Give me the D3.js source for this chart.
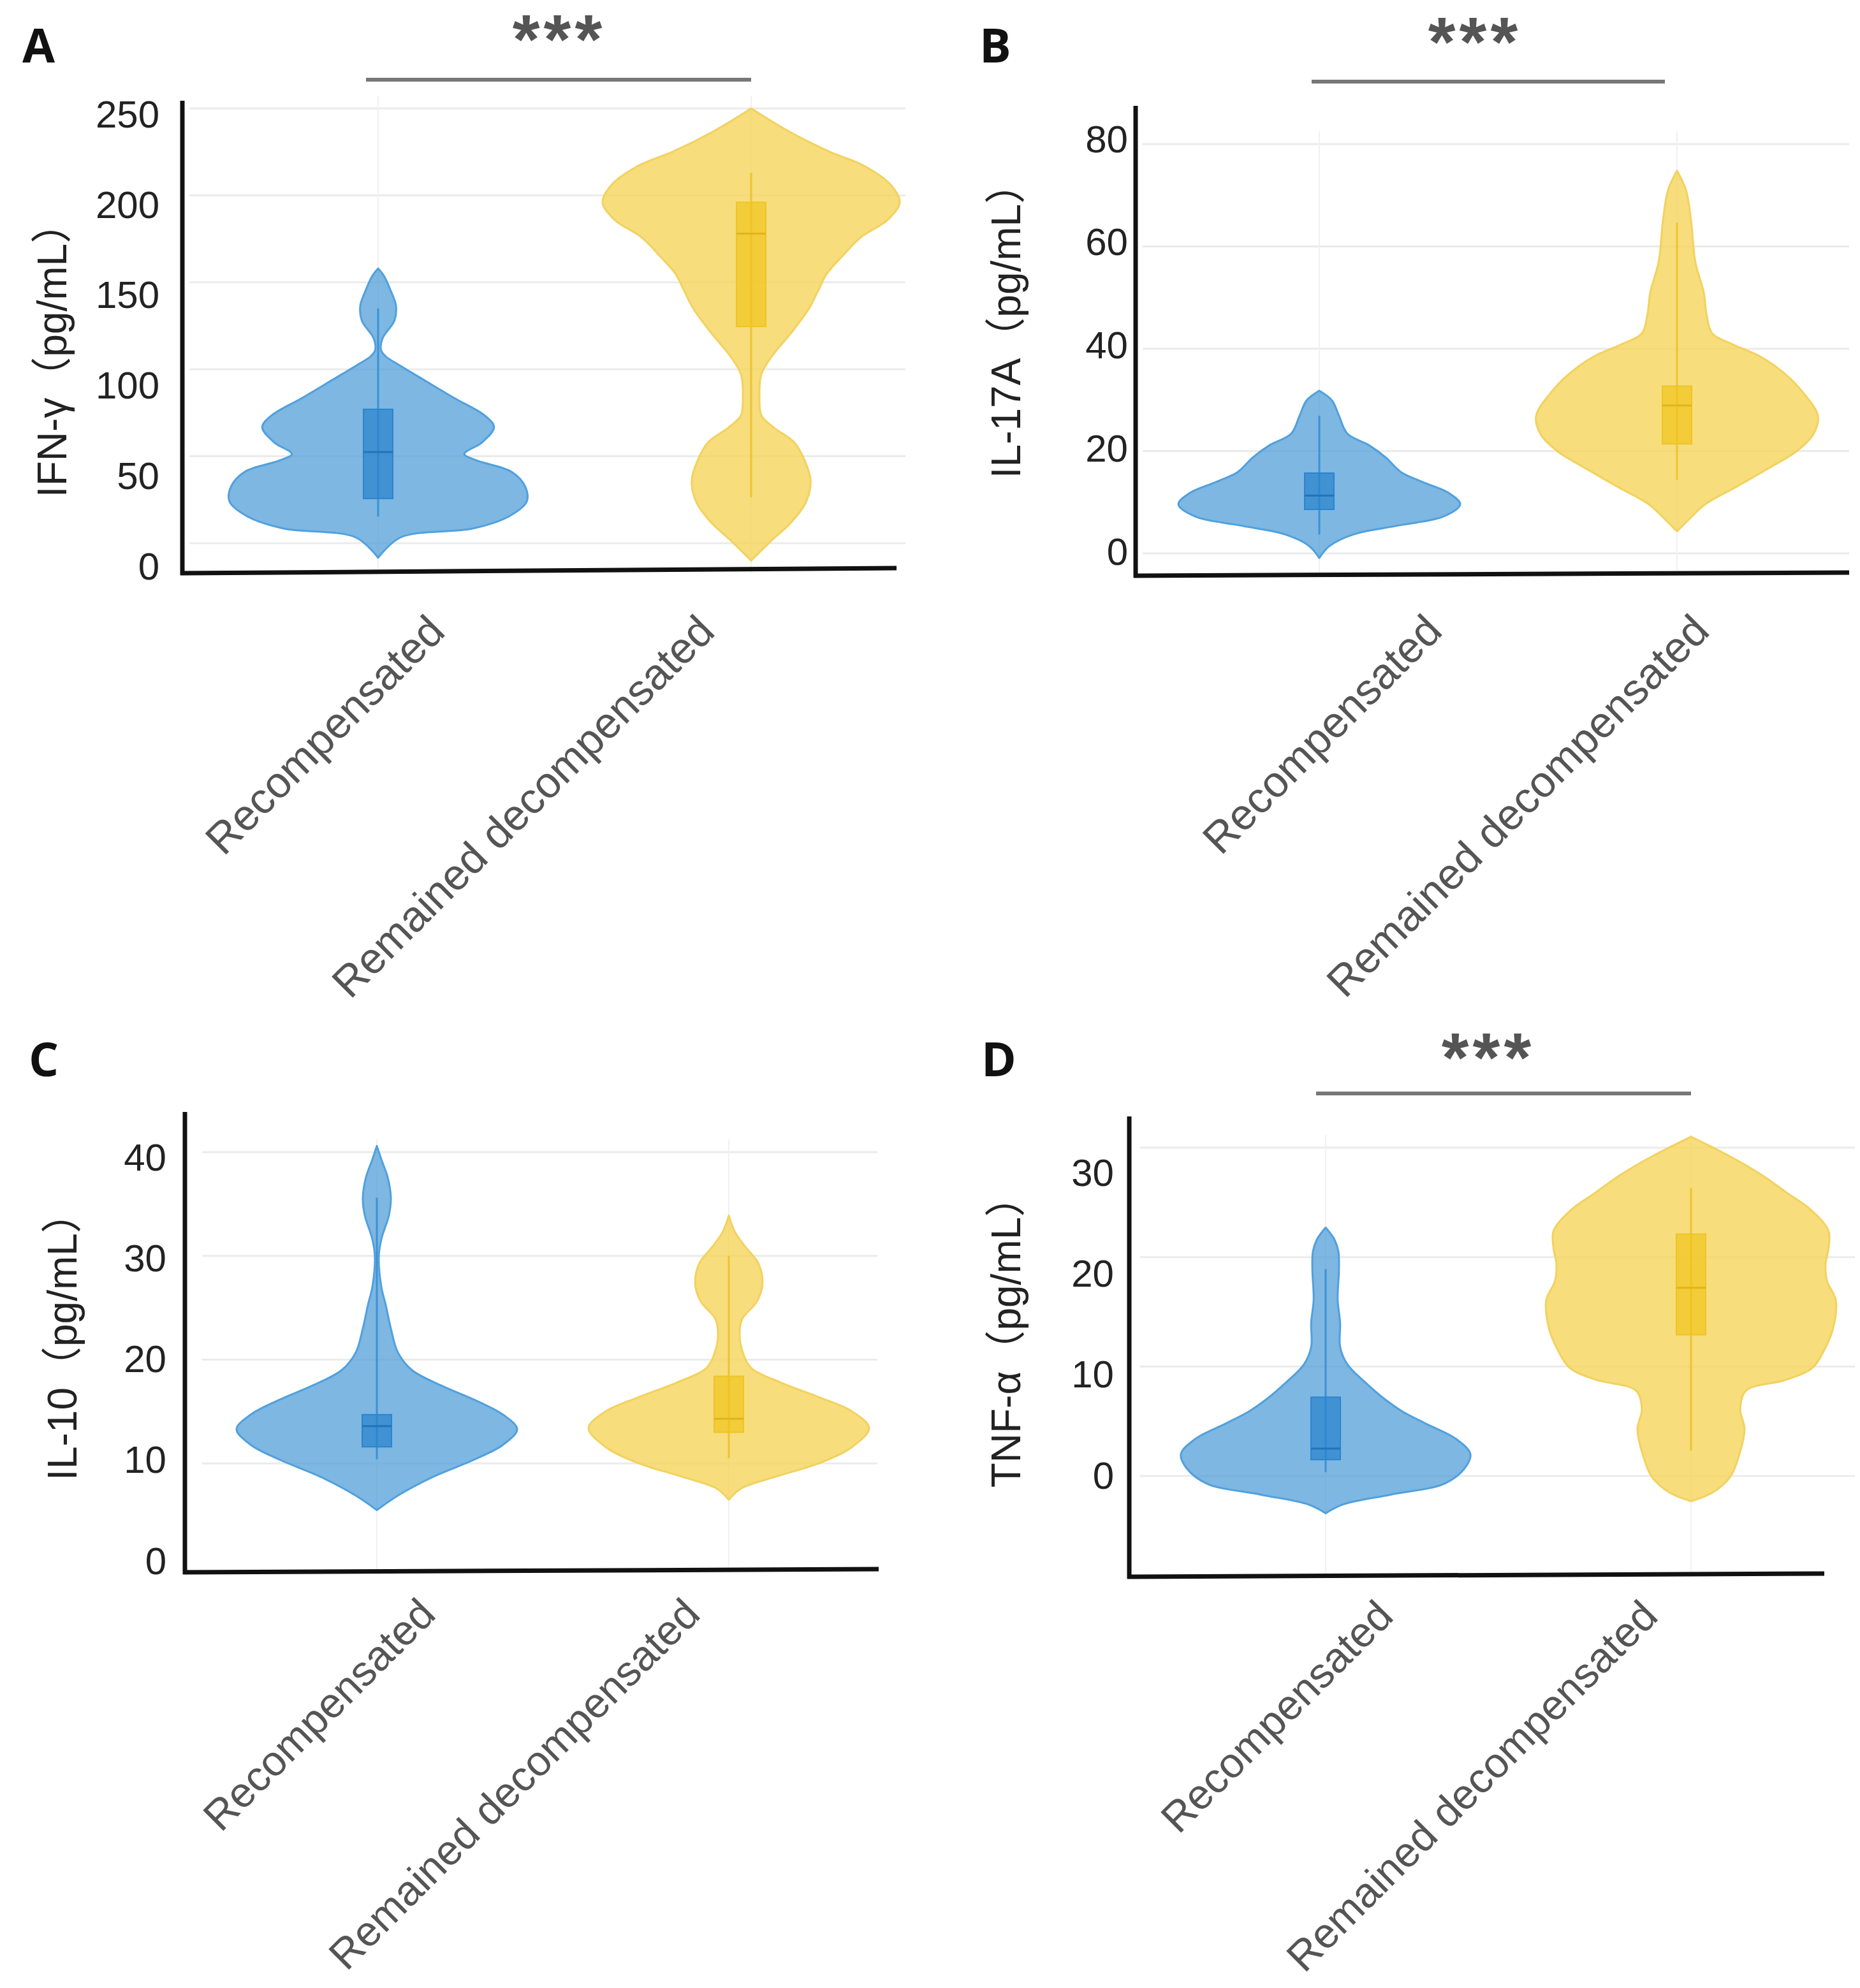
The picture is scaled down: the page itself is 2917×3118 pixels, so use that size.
<!DOCTYPE html>
<html>
<head>
<meta charset="utf-8">
<script src="https://cdn.jsdelivr.net/npm/d3@7"></script>
<style>
  body { margin: 0; background: #fff; }
  svg { display: block; }
</style>
</head>
<body>
<svg id="chart" width="2917" height="3118"></svg>
<script>
// ---------------- DATA ----------------
const categories = ["Recompensated", "Remained decompensated"];
const panelLetters = ["A", "B", "C", "D"];
const yTitles = ["IFN-γ（pg/mL）", "IL-17A（pg/mL）", "IL-10（pg/mL）", "TNF-α（pg/mL）"];
const significance = ["***", "***", "", "***"];

const yTicksA = [0, 50, 100, 150, 200, 250];
const yTicksB = [0, 20, 40, 60, 80];
const yTicksC = [0, 10, 20, 30, 40];
const yTicksD = [0, 10, 20, 30];
const gridA = [0, 50, 100, 150, 200, 250];
const gridB = [0, 20, 40, 60, 80];
const gridC = [10, 20, 30, 40];
const gridD = [0, 10, 20, 30];

// violin density profiles: [value, relative density (max = 1)]
const ifnRecompDensity = [[-8.4,0],[3.3,0.15],[8.5,0.64],[15.4,0.88],[23.9,1],[32.6,0.99],[41,0.9],[47.7,0.66],[51.3,0.58],[58,0.7],[66.7,0.78],[73.3,0.72],[83.6,0.51],[93.8,0.31],[102,0.15],[107.5,0.05],[111,0.02],[117.8,0.03],[128,0.11],[136.6,0.12],[145,0.086],[153.6,0.04],[158,0]];
const ifnDecompDensity = [[-10,0],[1.8,0.14],[12,0.27],[23.8,0.37],[36,0.4],[47.7,0.36],[58,0.29],[66.7,0.15],[73.3,0.07],[83.6,0.056],[97,0.068],[107.5,0.14],[121,0.27],[135,0.39],[145,0.45],[155,0.51],[165.6,0.62],[176,0.74],[186,0.92],[196,1],[206,0.94],[217,0.76],[225,0.53],[237,0.25],[250,0]];
const il17RecompDensity = [[-0.9,0],[1.4,0.07],[3.7,0.24],[5.5,0.57],[7.2,0.88],[9.6,1],[11.8,0.92],[14,0.73],[15.9,0.58],[18.8,0.47],[21.2,0.35],[23.4,0.2],[26.9,0.14],[29.9,0.09],[31.8,0]];
const il17DecompDensity = [[4.3,0],[7.2,0.105],[9.6,0.2],[13,0.42],[16.5,0.64],[20,0.85],[23.4,0.97],[26.9,1],[31.6,0.89],[35,0.77],[38.5,0.59],[40.8,0.4],[43,0.25],[46.7,0.21],[51,0.19],[57,0.13],[65,0.1],[71,0.064],[74.8,0]];
const il10RecompDensity = [[5.5,0],[6.9,0.15],[8.7,0.4],[10.4,0.7],[11.8,0.9],[13.3,1],[14.7,0.9],[16.1,0.7],[17.5,0.46],[19,0.25],[20.7,0.15],[23,0.1],[25.3,0.063],[27,0.032],[29.9,0.014],[31.6,0.032],[33.9,0.086],[35.6,0.1],[37.6,0.077],[39.3,0.032],[40.6,0]];
const il10DecompDensity = [[6.5,0],[7.6,0.09],[8.7,0.33],[10.1,0.66],[11.6,0.88],[13.4,1],[15,0.88],[16.4,0.64],[17.8,0.37],[19.2,0.16],[20.7,0.1],[22.4,0.077],[23.9,0.095],[25.6,0.2],[27.3,0.24],[29.3,0.21],[31,0.11],[32.4,0.04],[33.9,0]];
const tnfRecompDensity = [[-3.4,0],[-2.6,0.12],[-1.7,0.45],[-0.7,0.82],[0.7,0.96],[2.0,1],[3.4,0.9],[4.8,0.69],[5.9,0.53],[6.9,0.42],[8.6,0.27],[10.2,0.15],[11.8,0.1],[14,0.1],[16.1,0.083],[18.9,0.092],[20.5,0.088],[21.6,0.061],[22.7,0]];
const tnfDecompDensity = [[-2.3,0],[-1.5,0.15],[-0.1,0.27],[1.8,0.33],[4.3,0.37],[6.1,0.34],[7.8,0.38],[8.8,0.66],[9.9,0.84],[11.5,0.92],[13.4,0.98],[16.1,1],[17.8,0.94],[19.4,0.93],[20.8,0.95],[22.4,0.95],[24.3,0.83],[25.9,0.66],[27.5,0.49],[29.2,0.27],[31,0]];

// box statistics: [lower whisker, Q1, median, Q3, upper whisker]
const ifnRecompBox = [15.4, 25.7, 52.4, 77, 135];
const ifnDecompBox = [26.4, 124.6, 178, 196, 213];
const il17RecompBox = [3.7, 8.6, 11.3, 15.7, 26.9];
const il17DecompBox = [14.4, 21.4, 28.9, 32.7, 64.6];
const il10RecompBox = [10.4, 11.6, 13.6, 14.7, 35.6];
const il10DecompBox = [10.5, 13, 14.3, 18.4, 30];
const tnfRecompBox = [0.35, 1.5, 2.5, 7.2, 18.9];
const tnfDecompBox = [2.3, 12.9, 17.2, 22.1, 26.3];

// ---------------- LAYOUT (pixels) ----------------
const layouts = [
  { yMax: 250, ticks: yTicksA, grid: gridA, dens: [ifnRecompDensity, ifnDecompDensity], box: [ifnRecompBox, ifnDecompBox],
    yRange: [852, 170], labelRange: [889, 180], labelX: 250, gridX: [297, 1420], catX: [593, 1178],
    catLabelX: [684, 1107], catLabelY: 977, catFont: 68, yAxisX: 286, yAxisTop: 158, xAxis: [[286, 899], [1406, 891]],
    maxHalf: 233, letter: [35, 98], title: [82, 549], sig: { x0: 574, x1: 1178, y: 125, tx: 877, ty: 99 } },
  { yMax: 80, ticks: yTicksB, grid: gridB, dens: [il17RecompDensity, il17DecompDensity], box: [il17RecompBox, il17DecompBox],
    yRange: [868, 226], labelRange: [866, 219], labelX: 1769, gridX: [1792, 2900], catX: [2069, 2630],
    catLabelX: [2248, 2667], catLabelY: 976, catFont: 68, yAxisX: 1781, yAxisTop: 166, xAxis: [[1781, 903], [2900, 898]],
    maxHalf: 221, letter: [1536, 98], title: [1578, 503], sig: { x0: 2057, x1: 2611, y: 128, tx: 2313, ty: 103 } },
  { yMax: 40, ticks: yTicksC, grid: gridC, dens: [il10RecompDensity, il10DecompDensity], box: [il10RecompBox, il10DecompBox],
    yRange: [2458, 1807], labelRange: [2449, 1816], labelX: 261, gridX: [317, 1376], catX: [591, 1143],
    catLabelX: [670, 1085], catLabelY: 2519, catFont: 66, yAxisX: 290, yAxisTop: 1744, xAxis: [[290, 2466], [1378, 2461]],
    maxHalf: 220, letter: [45, 1688], title: [98, 2096], sig: null },
  { yMax: 30, ticks: yTicksD, grid: gridD, dens: [tnfRecompDensity, tnfDecompDensity], box: [tnfRecompBox, tnfDecompBox],
    yRange: [2315, 1800], labelRange: [2315, 1840], labelX: 1747, gridX: [1788, 2909], catX: [2079, 2652],
    catLabelX: [2172, 2587], catLabelY: 2522, catFont: 66, yAxisX: 1771, yAxisTop: 1751, xAxis: [[1771, 2473], [2861, 2468]],
    maxHalf: 227, letter: [1539, 1688], title: [1578, 2089], sig: { x0: 2064, x1: 2652, y: 1715, tx: 2334, ty: 1696 } }
];

const styles = [
  { fill: "rgb(75,155,215)", fillOpacity: 0.72, stroke: "rgb(80,160,222)", boxFill: "rgb(40,130,205)", boxStroke: "rgb(45,132,205)", median: "rgb(35,115,185)", whisker: "rgb(60,145,212)" },
  { fill: "rgb(245,212,90)", fillOpacity: 0.8, stroke: "rgb(242,210,95)", boxFill: "rgb(240,196,30)", boxStroke: "rgb(238,196,40)", median: "rgb(226,180,25)", whisker: "rgb(236,196,50)" }
];
const boxHalf = 23;
const sansFont = "'Liberation Sans', Arial, 'Noto Sans CJK SC', sans-serif";

// ---------------- DRAW ----------------
const svg = d3.select("#chart");
svg.append("rect").attr("width", 2917).attr("height", 3118).attr("fill", "#fff");

layouts.forEach((p, i) => {
  const g = svg.append("g");
  const y = d3.scaleLinear().domain([0, p.yMax]).range(p.yRange);
  const yLab = d3.scaleLinear().domain([0, p.yMax]).range(p.labelRange);
  const x = d3.scalePoint().domain(categories).range(p.catX);
  const xLab = d3.scalePoint().domain(categories).range(p.catLabelX);
  const w = d3.scaleLinear().domain([0, 1]).range([0, p.maxHalf]);
  const plotTop = y(p.yMax) - 20;
  const plotBottom = p.xAxis[0][1];

  // horizontal gridlines
  g.append("g").selectAll("line").data(p.grid).join("line")
    .attr("x1", p.gridX[0]).attr("x2", p.gridX[1])
    .attr("y1", d => y(d)).attr("y2", d => y(d))
    .attr("stroke", "#ebebeb").attr("stroke-width", 3);
  // vertical category gridlines
  g.append("g").selectAll("line").data(categories).join("line")
    .attr("x1", d => x(d)).attr("x2", d => x(d))
    .attr("y1", plotTop).attr("y2", plotBottom)
    .attr("stroke", "#f1f1f1").attr("stroke-width", 2);

  // violins
  categories.forEach((c, k) => {
    const cx = x(c);
    const st = styles[k];
    const area = d3.area()
      .curve(d3.curveCatmullRom.alpha(0.5))
      .y(d => y(d[0]))
      .x0(d => cx - w(d[1]))
      .x1(d => cx + w(d[1]));
    g.append("path").datum(p.dens[k])
      .attr("d", area)
      .attr("fill", st.fill).attr("fill-opacity", st.fillOpacity)
      .attr("stroke", st.stroke).attr("stroke-width", 3).attr("stroke-linejoin", "round");

    const b = p.box[k];
    // whisker
    g.append("line")
      .attr("x1", cx).attr("x2", cx)
      .attr("y1", y(b[0])).attr("y2", y(b[4]))
      .attr("stroke", st.whisker).attr("stroke-width", 3);
    // box
    g.append("rect")
      .attr("x", cx - boxHalf).attr("width", boxHalf * 2)
      .attr("y", y(b[3])).attr("height", y(b[1]) - y(b[3]))
      .attr("fill", st.boxFill).attr("fill-opacity", 0.7)
      .attr("stroke", st.boxStroke).attr("stroke-width", 2);
    // median
    g.append("line")
      .attr("x1", cx - boxHalf).attr("x2", cx + boxHalf)
      .attr("y1", y(b[2])).attr("y2", y(b[2]))
      .attr("stroke", st.median).attr("stroke-width", 3);
  });

  // y axis line
  g.append("line")
    .attr("x1", p.yAxisX).attr("x2", p.yAxisX)
    .attr("y1", p.yAxisTop).attr("y2", p.xAxis[0][1] + 3)
    .attr("stroke", "#111").attr("stroke-width", 7);
  // x axis line
  g.append("line")
    .attr("x1", p.xAxis[0][0] - 3).attr("y1", p.xAxis[0][1])
    .attr("x2", p.xAxis[1][0]).attr("y2", p.xAxis[1][1])
    .attr("stroke", "#111").attr("stroke-width", 7);

  // y tick labels
  const yAx = g.append("g")
    .attr("transform", `translate(${p.labelX},0)`)
    .call(d3.axisLeft(yLab).tickValues(p.ticks).tickSize(0).tickPadding(0).tickFormat(d3.format("d")));
  yAx.select(".domain").remove();
  yAx.selectAll("text")
    .attr("font-family", sansFont).attr("font-size", 60).attr("fill", "#222");

  // x category labels (rotated)
  g.append("g").selectAll("text").data(categories).join("text")
    .attr("x", d => xLab(d)).attr("y", p.catLabelY)
    .attr("transform", d => `rotate(-45, ${xLab(d)}, ${p.catLabelY})`)
    .attr("text-anchor", "end").attr("dominant-baseline", "central")
    .attr("font-family", sansFont).attr("font-size", p.catFont).attr("fill", "#555")
    .text(d => d);

  // y title
  g.append("text")
    .attr("transform", `translate(${p.title[0]},${p.title[1]}) rotate(-90)`)
    .attr("text-anchor", "middle").attr("dominant-baseline", "central")
    .attr("font-family", sansFont).attr("font-size", 64).attr("fill", "#222")
    .text(yTitles[i]);

  // panel letter
  g.append("text")
    .attr("x", p.letter[0]).attr("y", p.letter[1])
    .attr("font-family", "'Open Sans', 'Liberation Sans', Arial, sans-serif")
    .attr("font-weight", 700).attr("font-size", 74).attr("fill", "#111")
    .text(panelLetters[i]);

  // significance
  if (p.sig && significance[i]) {
    g.append("line")
      .attr("x1", p.sig.x0).attr("x2", p.sig.x1)
      .attr("y1", p.sig.y).attr("y2", p.sig.y)
      .attr("stroke", "#777").attr("stroke-width", 6);
    g.append("text")
      .attr("x", p.sig.tx).attr("y", p.sig.ty)
      .attr("text-anchor", "middle")
      .attr("font-family", sansFont).attr("font-weight", 700)
      .attr("font-size", 110).attr("letter-spacing", 6).attr("fill", "#555")
      .text(significance[i]);
  }
});
</script>
</body>
</html>
